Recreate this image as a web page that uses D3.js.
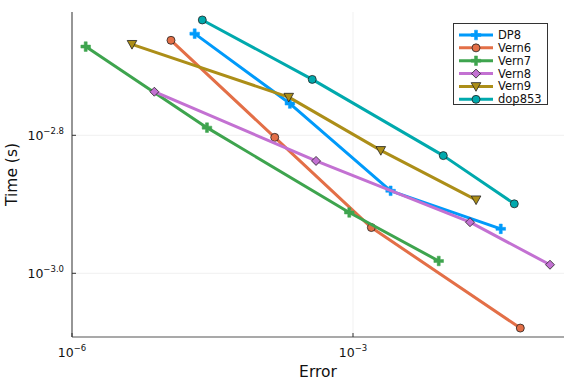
<!DOCTYPE html>
<html><head><meta charset="utf-8">
<script src="https://cdn.jsdelivr.net/npm/d3@7"></script>
<style>body{margin:0;background:#fff}svg{display:block;font-family:"DejaVu Sans",sans-serif}</style>
</head><body><div id="chart"></div>
<script>
const seriesNames = ["DP8","Vern6","Vern7","Vern8","Vern9","dop853"];
const colors = ["#009AFA","#E36F47","#3EA44E","#C371D2","#AC8E18","#00A9AD"];
const markers = ["cross","circle","cross","diamond","triangleDown","circle"];
const errDP8 = [2.04e-5, 2.12e-4, 2.52e-3, 0.0378];
const timeDP8 = [0.002225, 0.001762, 0.001317, 0.001160];
const errVern6 = [1.14e-5, 1.46e-4, 1.57e-3, 0.0611];
const timeVern6 = [0.002176, 0.001574, 0.001165, 0.000833];
const errVern7 = [1.40e-6, 2.76e-5, 9.12e-4, 8.22e-3];
const timeVern7 = [0.002131, 0.001626, 0.001225, 0.001042];
const errVern8 = [7.57e-6, 4.03e-4, 0.01774, 0.1268];
const timeVern8 = [0.001833, 0.001455, 0.001186, 0.001029];
const errVern9 = [4.37e-6, 2.06e-4, 1.98e-3, 0.0206];
const timeVern9 = [0.002147, 0.001800, 0.001507, 0.001278];
const errDop853 = [2.46e-5, 3.67e-4, 9.20e-3, 0.0527];
const timeDop853 = [0.002329, 0.001910, 0.001481, 0.001261];
const xTicks = [1e-6, 1e-3];
const xTickExp = ["−6", "−3"];
const yTicks = [Math.pow(10,-3.0), Math.pow(10,-2.8)];
const yTickExp = ["−3.0", "−2.8"];

const errs = [errDP8, errVern6, errVern7, errVern8, errVern9, errDop853];
const times = [timeDP8, timeVern6, timeVern7, timeVern8, timeVern9, timeDop853];

const W = 576, H = 384;
const L = 72, R = 564, T = 12, B = 337;
const svg = d3.select("#chart").append("svg").attr("width", W).attr("height", H);
const x = d3.scaleLog().domain([1e-6, Math.pow(10, -0.7475)]).range([L, R]);
const y = d3.scaleLog().domain([Math.pow(10, -3.0923), Math.pow(10, -2.6213)]).range([B, T]);

// grid
svg.append("g").selectAll("line").data(xTicks).join("line")
  .attr("x1", d => x(d)).attr("x2", d => x(d)).attr("y1", T).attr("y2", B)
  .attr("stroke", "#000").attr("stroke-opacity", 0.1).attr("stroke-width", 0.6);
svg.append("g").selectAll("line").data(yTicks).join("line")
  .attr("x1", L).attr("x2", R).attr("y1", d => y(d)).attr("y2", d => y(d))
  .attr("stroke", "#000").attr("stroke-opacity", 0.1).attr("stroke-width", 0.6);

// axes lines
svg.append("line").attr("x1", L).attr("x2", L).attr("y1", T).attr("y2", B).attr("stroke", "#555").attr("stroke-width", 1.2);
svg.append("line").attr("x1", L).attr("x2", R).attr("y1", B).attr("y2", B).attr("stroke", "#555").attr("stroke-width", 1.2);
// ticks
svg.append("g").selectAll("line").data(xTicks).join("line")
  .attr("x1", d => x(d)).attr("x2", d => x(d)).attr("y1", B).attr("y2", B - 4)
  .attr("stroke", "#333").attr("stroke-width", 1);
svg.append("g").selectAll("line").data(yTicks).join("line")
  .attr("x1", L).attr("x2", L + 4).attr("y1", d => y(d)).attr("y2", d => y(d))
  .attr("stroke", "#333").attr("stroke-width", 1);

// tick labels
const xl = svg.append("g").selectAll("text").data(xTicks).join("text")
  .attr("x", d => x(d)).attr("y", 357).attr("text-anchor", "middle")
  .attr("fill", "#111").attr("font-size", 12.5);
xl.append("tspan").text("10");
xl.append("tspan").attr("dy", -6).attr("font-size", 8.5).text((d, i) => xTickExp[i]);

const yl = svg.append("g").selectAll("text").data(yTicks).join("text")
  .attr("x", L - 8).attr("y", d => y(d) + 5).attr("text-anchor", "end")
  .attr("fill", "#111").attr("font-size", 12.5);
yl.append("tspan").text("10");
yl.append("tspan").attr("dy", -6).attr("font-size", 8.5).text((d, i) => yTickExp[i]);

// axis titles
svg.append("text").attr("x", (L + R) / 2).attr("y", 377).attr("text-anchor", "middle")
  .attr("font-size", 15.5).attr("fill", "#111").text("Error");
svg.append("text").attr("transform", `translate(17,${(T + B) / 2}) rotate(-90)`).attr("text-anchor", "middle")
  .attr("font-size", 15.5).attr("fill", "#111").text("Time (s)");

function marker(g, type, cx, cy, color) {
  if (type === "circle") {
    g.append("circle").attr("cx", cx).attr("cy", cy).attr("r", 4)
      .attr("fill", color).attr("stroke", "#222").attr("stroke-width", 0.8);
  } else if (type === "cross") {
    const a = 4.8, t = 1.5;
    const p = [[-t,-a],[t,-a],[t,-t],[a,-t],[a,t],[t,t],[t,a],[-t,a],[-t,t],[-a,t],[-a,-t],[-t,-t]];
    g.append("path").attr("d", "M" + p.map(q => [cx + q[0], cy + q[1]].join(",")).join("L") + "Z")
      .attr("fill", color).attr("stroke", color).attr("stroke-width", 0.5);
  } else if (type === "diamond") {
    const s = 4.5;
    g.append("path").attr("d", `M${cx},${cy - s}L${cx + s},${cy}L${cx},${cy + s}L${cx - s},${cy}Z`)
      .attr("fill", color).attr("stroke", "#222").attr("stroke-width", 0.8);
  } else if (type === "triangleDown") {
    const s = 4.8;
    g.append("path").attr("d", `M${cx - s},${cy - s * 0.8}L${cx + s},${cy - s * 0.8}L${cx},${cy + s}Z`)
      .attr("fill", color).attr("stroke", "#222").attr("stroke-width", 0.8);
  }
}

const line = d3.line().x(d => x(d[0])).y(d => y(d[1]));
seriesNames.forEach((name, i) => {
  const pts = errs[i].map((e, j) => [e, times[i][j]]);
  const g = svg.append("g");
  g.append("path").attr("d", line(pts)).attr("fill", "none")
    .attr("stroke", colors[i]).attr("stroke-width", 3).attr("stroke-linejoin", "round");
  pts.forEach(p => marker(g, markers[i], x(p[0]), y(p[1]), colors[i]));
});

// legend
const lg = svg.append("g");
lg.append("rect").attr("x", 453.5).attr("y", 23.5).attr("width", 94).attr("height", 81)
  .attr("fill", "#fff").attr("stroke", "#333").attr("stroke-width", 1);
seriesNames.forEach((name, i) => {
  const cy = 35 + i * 12.87;
  lg.append("line").attr("x1", 459).attr("x2", 493).attr("y1", cy).attr("y2", cy)
    .attr("stroke", colors[i]).attr("stroke-width", 3);
  marker(lg, markers[i], 476, cy, colors[i]);
  lg.append("text").attr("x", 498).attr("y", cy + 4).attr("font-size", 11.5).attr("fill", "#111").text(name);
});
</script></body></html>
